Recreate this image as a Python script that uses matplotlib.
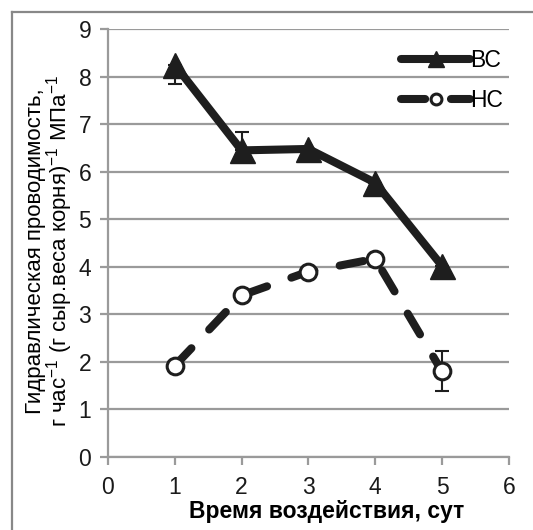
import matplotlib
matplotlib.use("Agg")
import matplotlib.pyplot as plt
from matplotlib.lines import Line2D

plt.rcParams['font.family'] = ['Liberation Sans', 'DejaVu Sans']
plt.rcParams['mathtext.fontset'] = 'custom'
plt.rcParams['mathtext.rm'] = 'Liberation Sans'
plt.rcParams['mathtext.it'] = 'Liberation Sans'
plt.rcParams['mathtext.bf'] = 'Liberation Sans:bold'

days = [1, 2, 3, 4, 5]
bc_values = [8.25, 6.45, 6.48, 5.77, 4.02]
bc_err_low = [0.40, 0.0, 0.0, 0.0, 0.0]
bc_err_high = [0.0, 0.38, 0.0, 0.0, 0.0]
hc_values = [1.92, 3.40, 3.90, 4.17, 1.80]
hc_err_low = [0.0, 0.0, 0.0, 0.0, 0.42]
hc_err_high = [0.0, 0.0, 0.0, 0.0, 0.42]
series_labels = ['ВС', 'НС']
xlabel = 'Время воздействия, сут'
ylabel = 'Гидравлическая проводимость,\nг час$^{-1}$ (г сыр.веса корня)$^{-1}$ МПа$^{-1}$'

dark = '#1e1e1e'
grid_c = '#9a9a9a'

fig = plt.figure(figsize=(5.33, 5.30), dpi=100)
ax = fig.add_axes([0.2026, 0.1377, 0.752, 0.8073])

ax.set_xlim(0, 6)
ax.set_ylim(0, 9)
ax.set_xticks(range(0, 7))
ax.set_yticks(range(0, 10))
ax.yaxis.grid(True, color=grid_c, linewidth=1.6)
ax.set_axisbelow(True)
for s in ['top', 'right']:
    ax.spines[s].set_visible(False)
for s in ['left', 'bottom']:
    ax.spines[s].set_color(grid_c)
    ax.spines[s].set_linewidth(1.6)
ax.tick_params(axis='both', direction='out', length=6, width=1.6, color=grid_c,
               labelsize=16.5, labelcolor='#1a1a1a')
ax.tick_params(axis='y', pad=6)
ax.tick_params(axis='x', pad=8)

ax.errorbar(days, bc_values, yerr=[bc_err_low, bc_err_high], fmt='none', ecolor=dark,
            elinewidth=1.5, capsize=5, capthick=1.5, zorder=3)
ax.errorbar(days, hc_values, yerr=[hc_err_low, hc_err_high], fmt='none', ecolor=dark,
            elinewidth=1.5, capsize=5, capthick=1.5, zorder=3)

l1, = ax.plot(days, bc_values, color=dark, linewidth=5.8, marker='^', markersize=18,
              markerfacecolor=dark, markeredgecolor=dark, solid_joinstyle='round',
              solid_capstyle='round', zorder=4, label=series_labels[0])
l2, = ax.plot(days, hc_values, color=dark, linewidth=5.8, marker='o', markersize=12,
              markerfacecolor='white', markeredgecolor=dark, markeredgewidth=2.2,
              dash_capstyle='round', zorder=4, label=series_labels[1])
l2.set_dashes([3.0, 3.2])

leg = ax.legend(handles=[l1, l2], loc='upper right', bbox_to_anchor=(1.02, 0.985),
                frameon=False, fontsize=16.5, handlelength=3.0, handletextpad=0.0,
                labelspacing=0.72, markerscale=0.65, borderaxespad=0.2)

ax.set_xlabel(xlabel, fontsize=16.5, fontweight='bold')
ax.xaxis.set_label_coords(0.545, -0.1)
ax.set_ylabel(ylabel, fontsize=16, linespacing=0.92)
ax.yaxis.set_label_coords(-0.082, 0.482)

fig.add_artist(Line2D([12/533, 12/533], [0, 1 - 12/530], transform=fig.transFigure,
                      color='#888888', linewidth=1.6))
fig.add_artist(Line2D([12/533, 1], [1 - 12/530, 1 - 12/530], transform=fig.transFigure,
                      color='#888888', linewidth=1.6))

fig.savefig('out.png', dpi=100)
